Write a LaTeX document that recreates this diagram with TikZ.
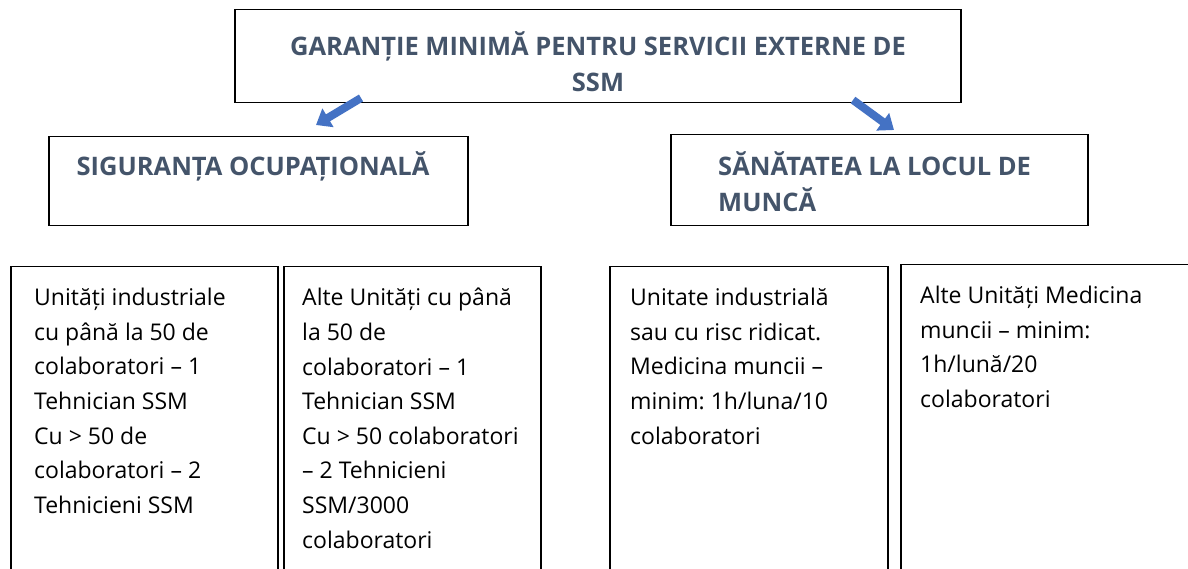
\documentclass[tikz,border=0pt]{standalone}
\usepackage{fontspec}
\setmainfont{Open Sans}
\newfontfamily\headfont{Open Sans}
\usetikzlibrary{arrows.meta,positioning}
\frenchspacing

\definecolor{headgray}{HTML}{44546A}
\definecolor{arrowblue}{HTML}{4472C4}

\tikzset{
  box/.style={draw,line width=1.5pt,anchor=north west,inner sep=0pt},
  headtext/.style={font=\headfont\bfseries\fontsize{25.5}{36}\selectfont,text=headgray,align=center,inner sep=0pt},
  bodytext/.style={font=\fontsize{23}{34.6}\selectfont,align=left,anchor=north west,inner sep=0pt},
  blockarrow/.style={line width=8pt,arrowblue,-{Triangle[length=14pt,width=21pt]}}
}

\begin{document}
\begin{tikzpicture}[x=1pt,y=-1pt]
    \useasboundingbox (0,0) rectangle (1188,569);
    \clip (0,0) rectangle (1188,569);

    % titlu
    \node[box,minimum width=726pt,minimum height=93pt] (garantie) at (234,9) {};
    \node[headtext] (garantieText) at (598,62) {GARANȚIE MINIMĂ PENTRU SERVICII EXTERNE DE\\SSM};

    % cele doua ramuri
    \node[box,minimum width=419pt,minimum height=89pt] (siguranta) at (48,136) {};
    \node[headtext] (sigurantaText) at (253,166) {SIGURANȚA OCUPAȚIONALĂ};
    \node[box,minimum width=417pt,minimum height=91pt] (sanatate) at (670,134) {};
    \node[headtext,align=left,anchor=north west] (sanatateText) at (718,151) {SĂNĂTATEA LA LOCUL DE\\MUNCĂ};

    \coordinate (sigStart) at (361,98);
    \coordinate (sigEnd) at (316,125);
    \coordinate (sanStart) at (853,100);
    \coordinate (sanEnd) at (894,130);
    \draw[blockarrow] (sigStart) -- (sigEnd);
    \draw[blockarrow] (sanStart) -- (sanEnd);

    % casetele de jos
    \node[box,minimum width=267pt,minimum height=340pt] (unitInd) at (10,266) {};
    \node[box,minimum width=257pt,minimum height=340pt] (alteUnit) at (283,266) {};
    \node[box,minimum width=278pt,minimum height=340pt] (unitRisc) at (609,266) {};
    \node[box,minimum width=320pt,minimum height=340pt] (alteMed) at (900,264) {};

    \node[bodytext] (unitIndText) at (34,288) {Unități industriale\\cu până la 50 de\\colaboratori – 1\\Tehnician SSM\\Cu > 50 de\\colaboratori – 2\\Tehnicieni SSM};
    \node[bodytext] (alteUnitText) at (302,288) {Alte Unități cu până\\la 50 de\\colaboratori – 1\\Tehnician SSM\\Cu > 50 colaboratori\\– 2 Tehnicieni\\SSM/3000\\colaboratori};
    \node[bodytext] (unitRiscText) at (630,288) {Unitate industrială\\sau cu risc ridicat.\\Medicina muncii –\\minim: 1h/luna/10\\colaboratori};
    \node[bodytext] (alteMedText) at (920,286) {Alte Unități Medicina\\muncii – minim:\\1h/lună/20\\colaboratori};
\end{tikzpicture}
\end{document}
